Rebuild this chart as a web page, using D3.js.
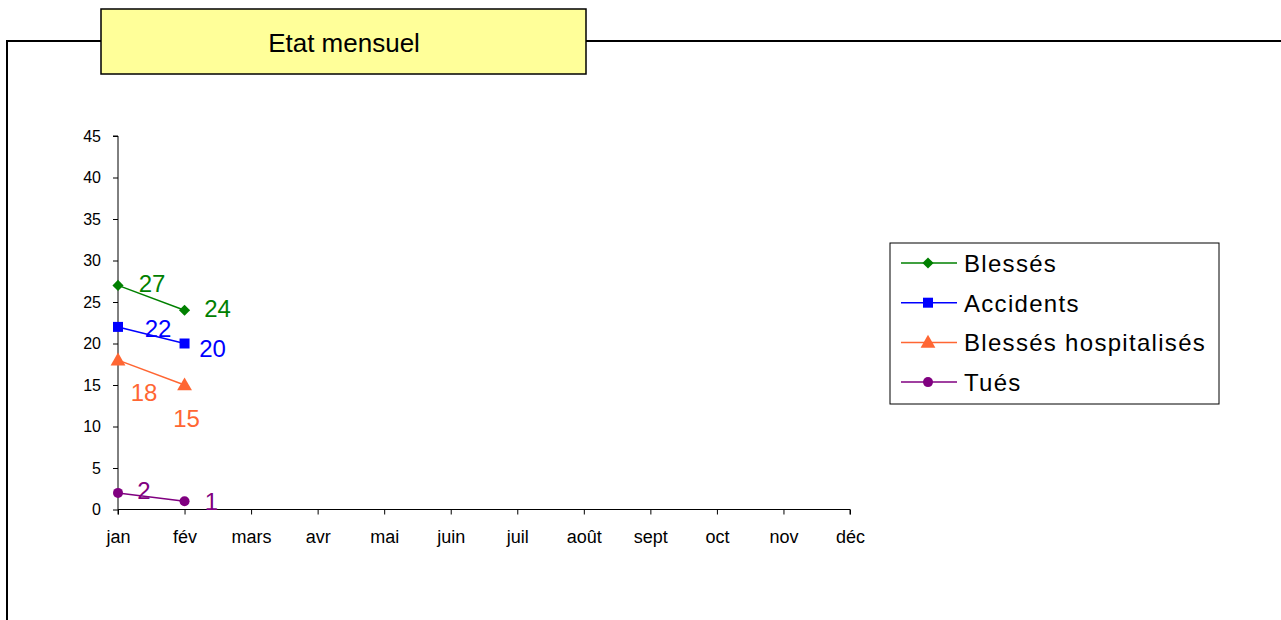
<!DOCTYPE html>
<html>
<head>
<meta charset="utf-8">
<script src="https://cdn.jsdelivr.net/npm/d3@7"></script>
<style>
  body { margin: 0; background: #fff; }
  svg { display: block; font-family: "Liberation Sans", Arial, sans-serif; }
</style>
</head>
<body>
<div id="chart"></div>
<script>
// data
var months = ['jan','fév','mars','avr','mai','juin','juil','août','sept','oct','nov','déc'];
var seriesNames = ['Blessés','Accidents','Blessés hospitalisés','Tués'];
var blesses = [27, 24];
var accidents = [22, 20];
var hospitalises = [18, 15];
var tues = [2, 1];
var yTicks = [0,5,10,15,20,25,30,35,40,45];

var colors = ['#008000','#0000FF','#FF6633','#800080'];
var allSeries = [blesses, accidents, hospitalises, tues];
// label offsets (centre x, baseline y) relative to the point
var labelDx = [[34, 33], [40, 28], [26, 2], [26, 27]];
var labelDy = [[7, 7], [10, 13], [41, 42], [6, 9]];

var W = 1281, H = 620;
var svg = d3.select('#chart').append('svg')
            .attr('width', W)
            .attr('height', H);

function marker(sel, k, x, y) {
  var c = colors[k];
  var g = sel.append('g').attr('transform', 'translate(' + x + ',' + y + ')');
  if (k == 0) {
    g.append('path').attr('d', d3.symbol().type(d3.symbolSquare).size(62)())
     .attr('transform', 'rotate(45)').attr('fill', c);
  } else if (k == 1) {
    g.append('path').attr('d', d3.symbol().type(d3.symbolSquare).size(100)()).attr('fill', c);
  } else if (k == 2) {
    g.append('path').attr('d', d3.symbol().type(d3.symbolTriangle).size(95)())
     .attr('transform', 'translate(0,1)').attr('fill', c);
  } else {
    g.append('circle').attr('r', 5).attr('fill', c);
  }
}

// outer frame
svg.append('path')
   .attr('d', 'M7,' + H + ' L7,41 L' + W + ',41')
   .attr('fill', 'none')
   .attr('stroke', '#000')
   .attr('stroke-width', 2);

// title box
svg.append('rect')
   .attr('x', 101).attr('y', 9)
   .attr('width', 485).attr('height', 65)
   .attr('fill', '#FFFF99')
   .attr('stroke', '#000')
   .attr('stroke-width', 1.5);
svg.append('text')
   .attr('x', 344).attr('y', 52)
   .attr('text-anchor', 'middle')
   .attr('font-size', 26)
   .text('Etat mensuel');

var xScale = d3.scalePoint().domain(months).range([118, 850]);
var yScale = d3.scaleLinear().domain([0, 45]).range([509.5, 136]);

var xAxis = d3.axisBottom(xScale).tickSize(5);
var gx = svg.append('g')
   .attr('transform', 'translate(0,509.5)')
   .call(xAxis);
gx.select('.domain').attr('d', 'M118,5V0H850V5');
gx.selectAll('text')
  .attr('y', 33).attr('dy', null)
  .attr('font-size', 18).attr('fill', '#000')
  .attr('font-family', '"Liberation Sans", Arial, sans-serif');

var yAxis = d3.axisLeft(yScale).tickValues(yTicks).tickSize(5).tickPadding(12);
var gy = svg.append('g')
   .attr('transform', 'translate(118,0)')
   .call(yAxis);
gy.select('.domain').attr('d', 'M-5,136H0V509.5');
gy.selectAll('text').attr('font-size', 16).attr('fill', '#000')
  .attr('font-family', '"Liberation Sans", Arial, sans-serif');

var line = d3.line()
             .x(function(d, i) { return xScale(months[i]); })
             .y(function(d) { return yScale(d); });

for (var s = 0; s < allSeries.length; s++) {
  var data = allSeries[s];
  svg.append('path')
     .datum(data)
     .attr('fill', 'none')
     .attr('stroke', colors[s])
     .attr('stroke-width', 1.5)
     .attr('d', line);
  for (var i = 0; i < data.length; i++) {
    var px = xScale(months[i]), py = yScale(data[i]);
    marker(svg, s, px, py);
    svg.append('text')
       .attr('x', px + labelDx[s][i])
       .attr('y', py + labelDy[s][i])
       .attr('text-anchor', 'middle')
       .attr('font-size', 24)
       .attr('fill', colors[s])
       .text(data[i]);
  }
}

// legend
var leg = svg.append('g');
leg.append('rect')
   .attr('x', 890).attr('y', 243)
   .attr('width', 329).attr('height', 161)
   .attr('fill', '#fff')
   .attr('stroke', '#000')
   .attr('stroke-width', 1);
for (var k = 0; k < seriesNames.length; k++) {
  var ly = 263 + k * 39.7;
  leg.append('line')
     .attr('x1', 901).attr('x2', 957)
     .attr('y1', ly).attr('y2', ly)
     .attr('stroke', colors[k])
     .attr('stroke-width', 1.5);
  marker(leg, k, 928, ly);
  leg.append('text')
     .attr('x', 964).attr('y', ly + 9)
     .attr('font-size', 24)
     .attr('letter-spacing', 1.3)
     .text(seriesNames[k]);
}
</script>
</body>
</html>
